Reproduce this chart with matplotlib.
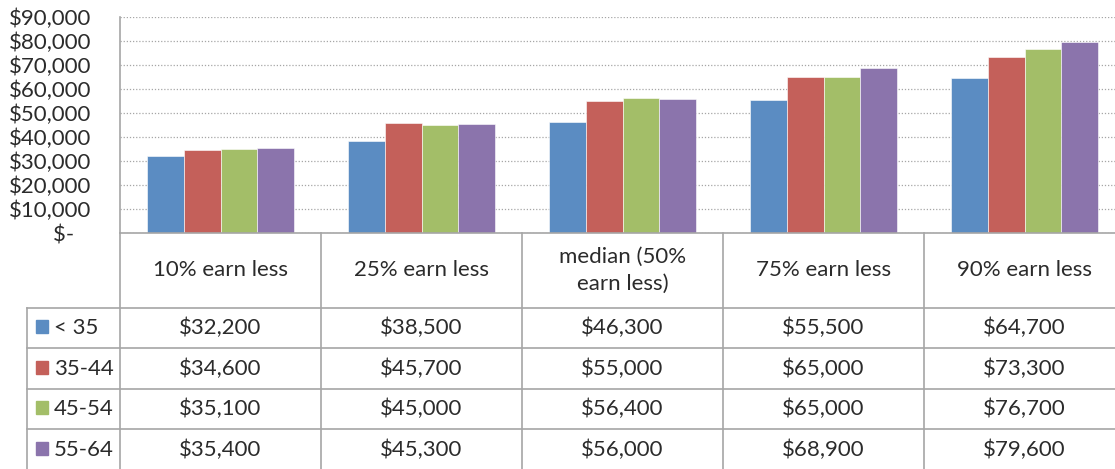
import numpy as np
import matplotlib.pyplot as plt
from matplotlib.patches import Rectangle

# -----------------------------
# Data
# -----------------------------
categories = ["10% earn less", "25% earn less", "median (50%\nearn less)",
              "75% earn less", "90% earn less"]
series_names = ["< 35", "35-44", "45-54", "55-64"]
under_35 = [32200, 38500, 46300, 55500, 64700]
age_35_44 = [34600, 45700, 55000, 65000, 73300]
age_45_54 = [35100, 45000, 56400, 65000, 76700]
age_55_64 = [35400, 45300, 56000, 68900, 79600]
series = [under_35, age_35_44, age_45_54, age_55_64]
y_ticks = [0, 10000, 20000, 30000, 40000, 50000, 60000, 70000, 80000, 90000]

colors = ["#5B8CC2", "#C4605A", "#A3BE68", "#8B74AC"]
grid_col = "#A6A6A6"
text_col = "#2B2B2B"
font = "Lato"

# -----------------------------
# Layout (pixels)
# -----------------------------
W, H = 1115, 469
plot_left, plot_right = 120, 1125
plot_top, plot_bottom = 17, 233
col_w = (plot_right - plot_left) / len(categories)
legend_left = 27
row_lines = [308, 348.5, 389, 429.5, 470]

fig = plt.figure(figsize=(W / 100, H / 100), dpi=100)
ax = fig.add_axes([plot_left / W, 1 - plot_bottom / H,
                   (plot_right - plot_left) / W, (plot_bottom - plot_top) / H])

x = np.arange(len(categories))
bw = 0.1825
for i, vals in enumerate(series):
    ax.bar(x + (i - 1.5) * bw, vals, bw, color=colors[i], zorder=3,
           edgecolor="#FFFFFF", linewidth=0.4)

ax.set_xlim(-0.5, len(categories) - 0.5)
ax.set_ylim(0, 90000)
ax.set_yticks(y_ticks)
ax.set_yticklabels([f"${v:,}" if v else "$-   " for v in y_ticks],
                   fontsize=16, family=font, color=text_col)
ax.tick_params(axis="y", length=0, pad=20.5)
ax.set_xticks([])
for s in ["top", "right", "bottom"]:
    ax.spines[s].set_visible(False)
ax.spines["left"].set_color(grid_col)
ax.spines["left"].set_linewidth(1.2)
ax.grid(axis="y", color=grid_col, linestyle=(0, (1, 1.5)), linewidth=0.9, zorder=0)
ax.set_axisbelow(True)

# -----------------------------
# Data table (pixel coords)
# -----------------------------
tab = fig.add_axes([0, 0, 1, 1])
tab.set_xlim(0, W)
tab.set_ylim(H, 0)
tab.axis("off")
tab.patch.set_alpha(0)

lw = 1.2
# x axis / table top
tab.plot([plot_left, plot_right], [plot_bottom, plot_bottom], color=grid_col, lw=lw)
# column borders
for j in range(len(categories) + 1):
    xc = plot_left + j * col_w
    tab.plot([xc, xc], [plot_bottom, H + 5], color=grid_col, lw=lw)
tab.plot([legend_left, legend_left], [row_lines[0], H + 5], color=grid_col, lw=lw)
for yr in row_lines:
    tab.plot([legend_left, plot_right], [yr, yr], color=grid_col, lw=lw)

# header
header_mid = (plot_bottom + row_lines[0]) / 2
for j, cat in enumerate(categories):
    tab.text(plot_left + (j + 0.5) * col_w, header_mid, cat, ha="center",
             va="center", fontsize=16, family=font, color=text_col,
             linespacing=1.4)

# rows
for i, (name, vals) in enumerate(zip(series_names, series)):
    ym = (row_lines[i] + row_lines[i + 1]) / 2
    tab.add_patch(Rectangle((36, ym - 8), 12, 13, color=colors[i]))
    tab.text(54, ym, name, ha="left", va="center", fontsize=16,
             family=font, color=text_col)
    for j, v in enumerate(vals):
        tab.text(plot_left + (j + 0.5) * col_w, ym, f"${v:,}", ha="center",
                 va="center", fontsize=16, family=font, color=text_col)

fig.savefig("out.png", dpi=100)
